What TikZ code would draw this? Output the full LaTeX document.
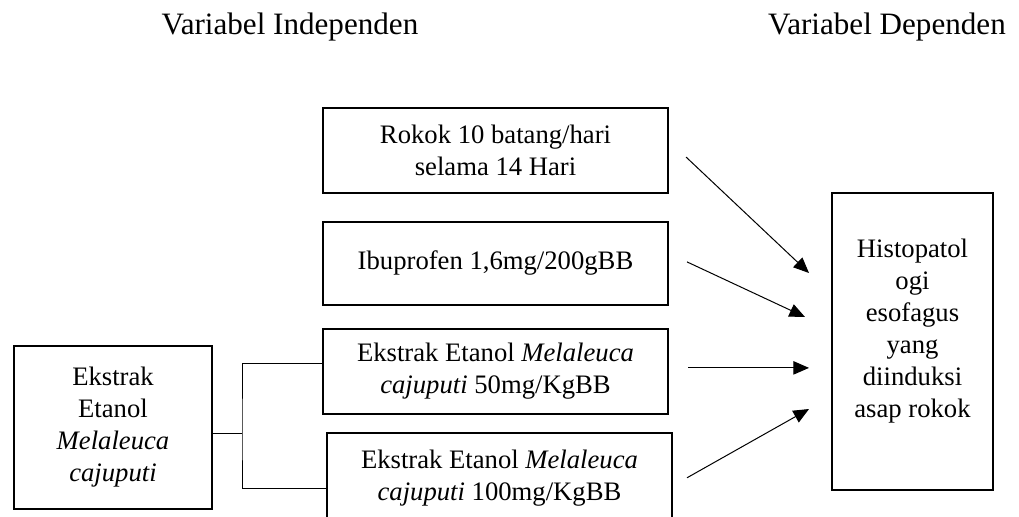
\documentclass[tikz,border=0pt]{standalone}
\usepackage{fontspec}
\setmainfont{Liberation Serif}
\usetikzlibrary{positioning,calc,arrows.meta}

\begin{document}
\begin{tikzpicture}[x=0.45pt, y=-0.45pt, >={Triangle[length=7pt,width=6pt]},
    font=\fontsize{12pt}{14.4pt}\selectfont,
    box/.style={draw, rectangle, line width=0.75pt, align=center, inner sep=0pt, outer sep=0pt},
    wbox/.style={box, minimum width=155.25pt},
    link/.style={line width=0.45pt}]
        \path[use as bounding box, clip] (0,0) rectangle (1019,516);

        % Headings
        \node [anchor=base, font=\fontsize{14pt}{16.8pt}\selectfont] (indep) at (290,35) {Variabel Independen};
        \node [anchor=base, font=\fontsize{14pt}{16.8pt}\selectfont] (dep) at (887,35) {Variabel Dependen};

        % Nodes
        \node [wbox, minimum height=38.25pt] (rokok) at (495.5,150.5) {Rokok 10 batang/hari\\selama 14 Hari};
        \node [wbox, minimum height=37.35pt, below=13pt of rokok] (ibu) {Ibuprofen 1,6mg/200gBB\par\vspace*{6pt}};
        \node [wbox, minimum height=38.25pt, below=10.8pt of ibu] (e50) {Ekstrak Etanol \textit{Melaleuca}\\\textit{cajuputi} 50mg/KgBB};
        \node [wbox, minimum height=40.5pt, below=8.5pt of e50, xshift=1.8pt] (e100) {Ekstrak Etanol \textit{Melaleuca}\\\textit{cajuputi} 100mg/KgBB};

        \node [box, minimum width=89.1pt, minimum height=73.35pt] (ekstrak) at (113,427.5) {Ekstrak\\Etanol\\\textit{Melaleuca}\\\textit{cajuputi}};
        \node [box, minimum width=72.45pt, minimum height=133.65pt] (histo) at (912.5,341.5) {Histopatol\\ogi\\esofagus\\yang\\diinduksi\\asap rokok\par\vspace*{9pt}};

        % Fork from the extract box
        \draw[link] ($(ekstrak.east)+(0,5.5)$) -- ++(30,0) coordinate (fork);
        \draw[link] ($(e50.west)+(0,-7.5)$) -| (fork) |- ($(e100.west)+(0,11)$);

        % Arrows to the dependent variable
        \draw[link, ->] ($(rokok.east)+(18,6.5)$) -- ($(histo.west)+(-23,-68.5)$);
        \draw[link, ->] ($(ibu.east)+(19,-1.5)$) -- ($(histo.west)+(-27,-24.5)$);
        \draw[link, ->] ($(e50.east)+(20,-3.5)$) coordinate (s50) -- ($(s50 -| histo.west)+(-23,0)$);
        \draw[link, ->] ($(e100.east)+(15,0)$) -- ($(histo.west)+(-23,67.5)$);
    \end{tikzpicture}
\end{document}
